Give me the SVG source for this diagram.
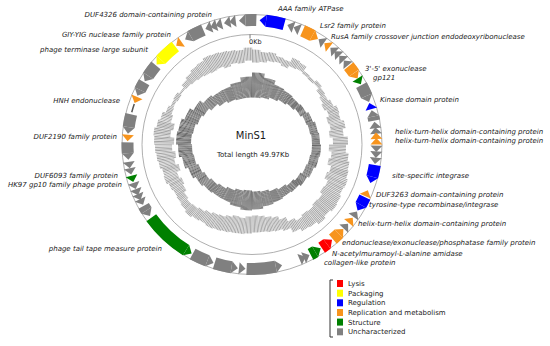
<svg xmlns="http://www.w3.org/2000/svg" xmlns:xlink="http://www.w3.org/1999/xlink" width="550" height="346" viewBox="0 0 550 346">
<style>
.lbl{font-family:"DejaVu Sans",Verdana,sans-serif;font-size:7px;font-style:italic;fill:#1a1a1a}
.e{text-anchor:end}
.leg{font-family:"DejaVu Sans",Verdana,sans-serif;font-size:7px;fill:#1a1a1a}
.gray{fill:#808080;stroke:#808080}
.blue{fill:#0000ff;stroke:#0000ff}
.orange{fill:#f7941d;stroke:#f7941d}
.yellow{fill:#ffff00;stroke:#ffff00}
.green{fill:#008000;stroke:#008000}
.red{fill:#ff0000;stroke:#ff0000}
.b{fill:none;stroke-width:12}
.lr{fill:none;stroke:#a3a3a3;stroke-dasharray:5.2 360}
.dr{fill:none;stroke:#4c4c4c;stroke-dasharray:10.3 360}
</style>
<defs>
<polygon id="hc" stroke="none" points="118.5,0 130.5,0 124.33,-6.52"/>
<polygon id="hw" stroke="none" points="118.5,0 130.5,0 124.33,6.52"/>
<mask id="hatch" maskUnits="userSpaceOnUse" x="-140" y="-140" width="280" height="280">
<circle r="75" fill="none" stroke="#fff" stroke-width="72" stroke-dasharray="0.8 0.45"/>
</mask>
</defs>
<rect width="550" height="346" fill="#fff"/>

<!-- GC content ring (light) -->
<g id="gc-content" transform="translate(252,144.5) rotate(-90)" mask="url(#hatch)">
<circle class="lr" pathLength="360" r="88.5" stroke-width="13" transform="rotate(0)"/>
<circle class="lr" pathLength="360" r="88" stroke-width="10" transform="rotate(5)"/>
<circle class="lr" pathLength="360" r="89.5" stroke-width="9" transform="rotate(10)"/>
<circle class="lr" pathLength="360" r="89" stroke-width="6" transform="rotate(15)"/>
<circle class="lr" pathLength="360" r="87.5" stroke-width="7" transform="rotate(20)"/>
<circle class="lr" pathLength="360" r="91.5" stroke-width="9" transform="rotate(25)"/>
<circle class="lr" pathLength="360" r="91.5" stroke-width="7" transform="rotate(30)"/>
<circle class="lr" pathLength="360" r="88.5" stroke-width="3" transform="rotate(35)"/>
<circle class="lr" pathLength="360" r="87.5" stroke-width="3" transform="rotate(40)"/>
<circle class="lr" pathLength="360" r="89" stroke-width="4" transform="rotate(45)"/>
<circle class="lr" pathLength="360" r="86.5" stroke-width="5" transform="rotate(50)"/>
<circle class="lr" pathLength="360" r="85" stroke-width="6" transform="rotate(55)"/>
<circle class="lr" pathLength="360" r="85" stroke-width="10" transform="rotate(60)"/>
<circle class="lr" pathLength="360" r="87.5" stroke-width="11" transform="rotate(65)"/>
<circle class="lr" pathLength="360" r="85.5" stroke-width="13" transform="rotate(70)"/>
<circle class="lr" pathLength="360" r="87.5" stroke-width="15" transform="rotate(75)"/>
<circle class="lr" pathLength="360" r="85" stroke-width="14" transform="rotate(80)"/>
<circle class="lr" pathLength="360" r="88.5" stroke-width="15" transform="rotate(85)"/>
<circle class="lr" pathLength="360" r="85.5" stroke-width="17" transform="rotate(90)"/>
<circle class="lr" pathLength="360" r="88.5" stroke-width="17" transform="rotate(95)"/>
<circle class="lr" pathLength="360" r="88.5" stroke-width="21" transform="rotate(100)"/>
<circle class="lr" pathLength="360" r="91" stroke-width="18" transform="rotate(105)"/>
<circle class="lr" pathLength="360" r="91" stroke-width="22" transform="rotate(110)"/>
<circle class="lr" pathLength="360" r="92.5" stroke-width="17" transform="rotate(115)"/>
<circle class="lr" pathLength="360" r="93" stroke-width="20" transform="rotate(120)"/>
<circle class="lr" pathLength="360" r="95" stroke-width="18" transform="rotate(125)"/>
<circle class="lr" pathLength="360" r="93.5" stroke-width="17" transform="rotate(130)"/>
<circle class="lr" pathLength="360" r="95.5" stroke-width="17" transform="rotate(135)"/>
<circle class="lr" pathLength="360" r="93.5" stroke-width="15" transform="rotate(140)"/>
<circle class="lr" pathLength="360" r="94" stroke-width="12" transform="rotate(145)"/>
<circle class="lr" pathLength="360" r="91" stroke-width="12" transform="rotate(150)"/>
<circle class="lr" pathLength="360" r="86" stroke-width="12" transform="rotate(155)"/>
<circle class="lr" pathLength="360" r="83" stroke-width="14" transform="rotate(160)"/>
<circle class="lr" pathLength="360" r="81.5" stroke-width="15" transform="rotate(165)"/>
<circle class="lr" pathLength="360" r="80" stroke-width="16" transform="rotate(170)"/>
<circle class="lr" pathLength="360" r="79.5" stroke-width="17" transform="rotate(175)"/>
<circle class="lr" pathLength="360" r="80.5" stroke-width="17" transform="rotate(180)"/>
<circle class="lr" pathLength="360" r="82" stroke-width="16" transform="rotate(185)"/>
<circle class="lr" pathLength="360" r="81.5" stroke-width="17" transform="rotate(190)"/>
<circle class="lr" pathLength="360" r="83" stroke-width="16" transform="rotate(195)"/>
<circle class="lr" pathLength="360" r="84.5" stroke-width="15" transform="rotate(200)"/>
<circle class="lr" pathLength="360" r="85.5" stroke-width="15" transform="rotate(205)"/>
<circle class="lr" pathLength="360" r="86" stroke-width="12" transform="rotate(210)"/>
<circle class="lr" pathLength="360" r="87.5" stroke-width="11" transform="rotate(215)"/>
<circle class="lr" pathLength="360" r="89.5" stroke-width="11" transform="rotate(220)"/>
<circle class="lr" pathLength="360" r="89" stroke-width="8" transform="rotate(225)"/>
<circle class="lr" pathLength="360" r="87.5" stroke-width="9" transform="rotate(230)"/>
<circle class="lr" pathLength="360" r="85.5" stroke-width="11" transform="rotate(235)"/>
<circle class="lr" pathLength="360" r="85" stroke-width="14" transform="rotate(240)"/>
<circle class="lr" pathLength="360" r="87" stroke-width="14" transform="rotate(245)"/>
<circle class="lr" pathLength="360" r="84.5" stroke-width="17" transform="rotate(250)"/>
<circle class="lr" pathLength="360" r="87" stroke-width="16" transform="rotate(255)"/>
<circle class="lr" pathLength="360" r="86.5" stroke-width="19" transform="rotate(260)"/>
<circle class="lr" pathLength="360" r="88.5" stroke-width="17" transform="rotate(265)"/>
<circle class="lr" pathLength="360" r="88" stroke-width="20" transform="rotate(270)"/>
<circle class="lr" pathLength="360" r="90.5" stroke-width="17" transform="rotate(275)"/>
<circle class="lr" pathLength="360" r="88.5" stroke-width="17" transform="rotate(280)"/>
<circle class="lr" pathLength="360" r="89.5" stroke-width="11" transform="rotate(285)"/>
<circle class="lr" pathLength="360" r="89" stroke-width="6" transform="rotate(290)"/>
<circle class="lr" pathLength="360" r="88.5" stroke-width="3" transform="rotate(295)"/>
<circle class="lr" pathLength="360" r="88.5" stroke-width="5" transform="rotate(300)"/>
<circle class="lr" pathLength="360" r="88" stroke-width="2" transform="rotate(305)"/>
<circle class="lr" pathLength="360" r="89" stroke-width="6" transform="rotate(310)"/>
<circle class="lr" pathLength="360" r="89.5" stroke-width="9" transform="rotate(315)"/>
<circle class="lr" pathLength="360" r="90" stroke-width="12" transform="rotate(320)"/>
<circle class="lr" pathLength="360" r="90" stroke-width="14" transform="rotate(325)"/>
<circle class="lr" pathLength="360" r="90.5" stroke-width="17" transform="rotate(330)"/>
<circle class="lr" pathLength="360" r="90.5" stroke-width="15" transform="rotate(335)"/>
<circle class="lr" pathLength="360" r="89" stroke-width="16" transform="rotate(340)"/>
<circle class="lr" pathLength="360" r="89.5" stroke-width="13" transform="rotate(345)"/>
<circle class="lr" pathLength="360" r="88.5" stroke-width="13" transform="rotate(350)"/>
<circle class="lr" pathLength="360" r="90.5" stroke-width="13" transform="rotate(355)"/>
</g>

<!-- GC skew ring (dark) -->
<g id="gc-skew" transform="translate(252,144.5) rotate(-90)" mask="url(#hatch)">
<circle class="dr" pathLength="360" r="59.5" stroke-width="25" transform="rotate(0)"/>
<circle class="dr" pathLength="360" r="58" stroke-width="20" transform="rotate(10)"/>
<circle class="dr" pathLength="360" r="57" stroke-width="14" transform="rotate(20)"/>
<circle class="dr" pathLength="360" r="57.5" stroke-width="11" transform="rotate(30)"/>
<circle class="dr" pathLength="360" r="58" stroke-width="8" transform="rotate(40)"/>
<circle class="dr" pathLength="360" r="59.5" stroke-width="7" transform="rotate(50)"/>
<circle class="dr" pathLength="360" r="61.5" stroke-width="7" transform="rotate(60)"/>
<circle class="dr" pathLength="360" r="63" stroke-width="8" transform="rotate(70)"/>
<circle class="dr" pathLength="360" r="64" stroke-width="8" transform="rotate(80)"/>
<circle class="dr" pathLength="360" r="64.5" stroke-width="9" transform="rotate(90)"/>
<circle class="dr" pathLength="360" r="63.5" stroke-width="9" transform="rotate(100)"/>
<circle class="dr" pathLength="360" r="62" stroke-width="8" transform="rotate(110)"/>
<circle class="dr" pathLength="360" r="60" stroke-width="8" transform="rotate(120)"/>
<circle class="dr" pathLength="360" r="58" stroke-width="8" transform="rotate(130)"/>
<circle class="dr" pathLength="360" r="56.5" stroke-width="9" transform="rotate(140)"/>
<circle class="dr" pathLength="360" r="56" stroke-width="12" transform="rotate(150)"/>
<circle class="dr" pathLength="360" r="55.5" stroke-width="15" transform="rotate(160)"/>
<circle class="dr" pathLength="360" r="56" stroke-width="18" transform="rotate(170)"/>
<circle class="dr" pathLength="360" r="56" stroke-width="20" transform="rotate(180)"/>
<circle class="dr" pathLength="360" r="55.5" stroke-width="17" transform="rotate(190)"/>
<circle class="dr" pathLength="360" r="55.5" stroke-width="13" transform="rotate(200)"/>
<circle class="dr" pathLength="360" r="56.5" stroke-width="11" transform="rotate(210)"/>
<circle class="dr" pathLength="360" r="58" stroke-width="10" transform="rotate(220)"/>
<circle class="dr" pathLength="360" r="60" stroke-width="10" transform="rotate(230)"/>
<circle class="dr" pathLength="360" r="62.5" stroke-width="11" transform="rotate(240)"/>
<circle class="dr" pathLength="360" r="65" stroke-width="12" transform="rotate(250)"/>
<circle class="dr" pathLength="360" r="67" stroke-width="14" transform="rotate(260)"/>
<circle class="dr" pathLength="360" r="68.5" stroke-width="15" transform="rotate(270)"/>
<circle class="dr" pathLength="360" r="67.5" stroke-width="15" transform="rotate(280)"/>
<circle class="dr" pathLength="360" r="65" stroke-width="14" transform="rotate(290)"/>
<circle class="dr" pathLength="360" r="62" stroke-width="12" transform="rotate(300)"/>
<circle class="dr" pathLength="360" r="58.5" stroke-width="11" transform="rotate(310)"/>
<circle class="dr" pathLength="360" r="56" stroke-width="12" transform="rotate(320)"/>
<circle class="dr" pathLength="360" r="55" stroke-width="14" transform="rotate(330)"/>
<circle class="dr" pathLength="360" r="55.5" stroke-width="17" transform="rotate(340)"/>
<circle class="dr" pathLength="360" r="57.5" stroke-width="21" transform="rotate(350)"/>
</g>

<!-- circles -->
<g id="axes" fill="none" stroke="#9a9a9a" stroke-width="0.8">
<circle cx="252" cy="144.5" r="110"/>
<circle cx="252" cy="144.5" r="130"/>
<line x1="250" y1="34.5" x2="250" y2="38.5" stroke="#555"/>
</g>
<text x="249" y="44" font-family="DejaVu Sans,sans-serif" font-size="6.5" fill="#1a1a1a">0Kb</text>

<!-- genes -->
<g id="genes" transform="translate(252,144.5) rotate(-90)">
<g id="g1" class="gray"><use href="#hc" transform="rotate(341)"/><use href="#hc" transform="rotate(343.5)"/><use href="#hc" transform="rotate(346)"/></g>
<g id="g2" class="gray"><use href="#hc" transform="rotate(350)"/><use href="#hc" transform="rotate(352.5)"/></g>
<g id="g3" class="gray"><circle class="b" r="124.5" pathLength="360" stroke-dasharray="5 360" transform="rotate(357)"/><use href="#hc" transform="rotate(357)"/></g>
<g id="g-aaa" class="blue"><circle class="b" r="124.5" pathLength="360" stroke-dasharray="8.5 360" transform="rotate(6.5)"/><use href="#hc" transform="rotate(6.5)"/></g>
<g id="g5" class="gray"><use href="#hc" transform="rotate(19.5)"/><use href="#hc" transform="rotate(22.5)"/></g>
<g id="g-lsr2" class="orange"><circle class="b" r="124.5" pathLength="360" stroke-dasharray="5 360" transform="rotate(24)"/><use href="#hw" transform="rotate(29)"/></g>
<g id="g7" class="gray"><use href="#hc" transform="rotate(35.3)"/></g>
<g id="g-rusa" class="orange"><use href="#hc" transform="rotate(38.5)"/></g>
<g id="g9" class="gray"><use href="#hc" transform="rotate(42)"/><use href="#hc" transform="rotate(44.5)"/><use href="#hc" transform="rotate(47.5)"/><use href="#hc" transform="rotate(50.5)"/></g>
<g id="g-exo" class="orange"><circle class="b" r="124.5" pathLength="360" stroke-dasharray="4 360" transform="rotate(51)"/><use href="#hw" transform="rotate(55)"/></g>
<g id="g-gp121" class="green"><use href="#hw" transform="rotate(58)"/></g>
<g id="g12" class="gray"><circle class="b" r="124.5" pathLength="360" stroke-dasharray="5.5 360" transform="rotate(61.5)"/><use href="#hw" transform="rotate(67)"/></g>
<g id="g-kinase" class="blue"><use href="#hc" transform="rotate(73.5)"/></g>
<g id="g14" class="gray"><circle class="b" r="124.5" pathLength="360" stroke-dasharray="2 360" transform="rotate(77)"/><use href="#hc" transform="rotate(77)"/></g>
<g id="g15" class="gray"><use href="#hc" transform="rotate(82.5)"/><use href="#hc" transform="rotate(85)"/></g>
<g id="g-hth12" class="orange"><use href="#hc" transform="rotate(87.5)"/><use href="#hc" transform="rotate(90)"/></g>
<g id="g17" class="gray"><use href="#hw" transform="rotate(90.5)"/><use href="#hw" transform="rotate(93.2)"/><use href="#hw" transform="rotate(96)"/></g>
<g id="g-integrase" class="blue"><circle class="b" r="124.5" pathLength="360" stroke-dasharray="5.5 360" transform="rotate(99.5)"/><use href="#hw" transform="rotate(105)"/></g>
<g id="g-duf3263" class="orange"><use href="#hc" transform="rotate(114.5)"/></g>
<g id="g-tyrosine" class="blue"><circle class="b" r="124.5" pathLength="360" stroke-dasharray="4 360" transform="rotate(115)"/><use href="#hw" transform="rotate(119)"/></g>
<g id="g21" class="gray"><use href="#hc" transform="rotate(125.5)"/></g>
<g id="g-hth3" class="orange"><use href="#hc" transform="rotate(129)"/></g>
<g id="g23" class="gray"><use href="#hc" transform="rotate(132.5)"/></g>
<g id="g-endo" class="orange"><circle class="b" r="124.5" pathLength="360" stroke-dasharray="3.7 360" transform="rotate(135.8)"/><use href="#hc" transform="rotate(135.8)"/></g>
<g id="g-amidase" class="red"><circle class="b" r="124.5" pathLength="360" stroke-dasharray="3 360" transform="rotate(143)"/><use href="#hc" transform="rotate(143)"/></g>
<g id="g-collagen" class="green"><circle class="b" r="124.5" pathLength="360" stroke-dasharray="2.5 360" transform="rotate(149.5)"/><use href="#hc" transform="rotate(149.5)"/></g>
<g id="g27" class="gray"><use href="#hc" transform="rotate(155.5)"/><use href="#hc" transform="rotate(157.5)"/></g>
<g id="g28" class="gray"><circle class="b" r="124.5" pathLength="360" stroke-dasharray="13.5 360" transform="rotate(169)"/><use href="#hc" transform="rotate(169)"/></g>
<g id="g29" class="gray"><use href="#hc" transform="rotate(186)"/></g>
<g id="g30" class="gray"><circle class="b" r="124.5" pathLength="360" stroke-dasharray="8 360" transform="rotate(189.5)"/><use href="#hc" transform="rotate(189.5)"/></g>
<g id="g31" class="gray"><circle class="b" r="124.5" pathLength="360" stroke-dasharray="7.5 360" transform="rotate(201)"/><use href="#hc" transform="rotate(201)"/></g>
<g id="g-tape" class="green"><circle class="b" r="124.5" pathLength="360" stroke-dasharray="22 360" transform="rotate(212)"/><use href="#hc" transform="rotate(212)"/></g>
<g id="g33" class="gray"><circle class="b" r="124.5" pathLength="360" stroke-dasharray="2.5 360" transform="rotate(238)"/><use href="#hc" transform="rotate(238)"/></g>
<g id="g34" class="gray"><use href="#hc" transform="rotate(244)"/><use href="#hc" transform="rotate(246.5)"/><use href="#hc" transform="rotate(249)"/><use href="#hc" transform="rotate(252)"/></g>
<g id="g-hk97" class="green"><use href="#hc" transform="rotate(255.5)"/></g>
<g id="g36" class="gray"><use href="#hc" transform="rotate(259)"/><use href="#hc" transform="rotate(262)"/></g>
<g id="g37" class="gray"><circle class="b" r="124.5" pathLength="360" stroke-dasharray="5 360" transform="rotate(266)"/><use href="#hc" transform="rotate(266)"/></g>
<g id="g-duf2190" class="orange"><use href="#hc" transform="rotate(274.5)"/></g>
<g id="g39" class="gray"><circle class="b" r="124.5" pathLength="360" stroke-dasharray="6 360" transform="rotate(278)"/><use href="#hc" transform="rotate(278)"/></g>
<g id="g40"><circle r="124.5" pathLength="360" fill="none" stroke="#555" stroke-width="1.5" stroke-dasharray="4 360" transform="rotate(285)"/></g>
<g id="g-hnh" class="orange"><use href="#hc" transform="rotate(292.5)"/></g>
<g id="g42" class="gray"><circle class="b" r="124.5" pathLength="360" stroke-dasharray="4 360" transform="rotate(296)"/><use href="#hc" transform="rotate(296)"/></g>
<g id="g43" class="gray"><circle class="b" r="124.5" pathLength="360" stroke-dasharray="6 360" transform="rotate(303.5)"/><use href="#hc" transform="rotate(303.5)"/></g>
<g id="g-terminase" class="yellow"><circle class="b" r="124.5" pathLength="360" stroke-dasharray="9 360" transform="rotate(313)"/><use href="#hc" transform="rotate(313)"/></g>
<g id="g-giy" class="orange"><use href="#hc" transform="rotate(325.5)"/></g>
<g id="g-duf4326" class="gray"><circle class="b" r="124.5" pathLength="360" stroke-dasharray="6.5 360" transform="rotate(330.5)"/><use href="#hc" transform="rotate(330.5)"/></g>
</g>

<!-- center -->
<g id="title">
<text x="251" y="139" text-anchor="middle" font-family="DejaVu Sans,sans-serif" font-size="10" fill="#1a1a1a">MinS1</text>
<text x="253" y="157" text-anchor="middle" font-family="DejaVu Sans,sans-serif" font-size="7" fill="#1a1a1a">Total length 49.97Kb</text>
</g>

<!-- labels -->
<g id="labels">
<text class="lbl" x="278" y="11">AAA family ATPase</text>
<text class="lbl" x="320" y="28">Lsr2 family protein</text>
<text class="lbl" x="331" y="38.5">RusA family crossover junction endodeoxyribonuclease</text>
<text class="lbl" x="365" y="71">3'-5' exonuclease</text>
<text class="lbl" x="373" y="79.5">gp121</text>
<text class="lbl" x="380" y="102">Kinase domain protein</text>
<text class="lbl" x="395" y="134">helix-turn-helix domain-containing protein</text>
<text class="lbl" x="395" y="142.5">helix-turn-helix domain-containing protein</text>
<text class="lbl" x="392" y="178">site-specific integrase</text>
<text class="lbl" x="376" y="197">DUF3263 domain-containing protein</text>
<text class="lbl" x="369" y="207">tyrosine-type recombinase/integrase</text>
<text class="lbl" x="358" y="226">helix-turn-helix domain-containing protein</text>
<text class="lbl" x="342" y="245">endonuclease/exonuclease/phosphatase family protein</text>
<text class="lbl" x="332" y="255.5">N-acetylmuramoyl-L-alanine amidase</text>
<text class="lbl" x="324" y="265">collagen-like protein</text>
<text class="lbl e" x="212" y="17">DUF4326 domain-containing protein</text>
<text class="lbl e" x="171" y="37">GIY-YIG nuclease family protein</text>
<text class="lbl e" x="148" y="52">phage terminase large subunit</text>
<text class="lbl e" x="120" y="103">HNH endonuclease</text>
<text class="lbl e" x="117" y="139">DUF2190 family protein</text>
<text class="lbl e" x="118" y="178">DUF6093 family protein</text>
<text class="lbl e" x="122" y="187">HK97 gp10 family phage protein</text>
<text class="lbl e" x="162" y="251">phage tail tape measure protein</text>
</g>

<!-- legend -->
<g id="legend">
<path d="M333,280 H330 V337 H333" fill="none" stroke="#333" stroke-width="1"/>
<rect x="337" y="280" width="6" height="7" fill="#ff0000"/>
<rect x="337" y="289.7" width="6" height="7" fill="#ffff00"/>
<rect x="337" y="299.3" width="6" height="7" fill="#0000ff"/>
<rect x="337" y="309" width="6" height="7" fill="#f7941d"/>
<rect x="337" y="318.6" width="6" height="7" fill="#008000"/>
<rect x="337" y="328.3" width="6" height="7" fill="#808080"/>
<text class="leg" x="348" y="286">Lysis</text>
<text class="leg" x="348" y="295.7">Packaging</text>
<text class="leg" x="348" y="305.3">Regulation</text>
<text class="leg" x="348" y="315">Replication and metabolism</text>
<text class="leg" x="348" y="324.6">Structure</text>
<text class="leg" x="348" y="334.3">Uncharacterized</text>
</g>
</svg>
